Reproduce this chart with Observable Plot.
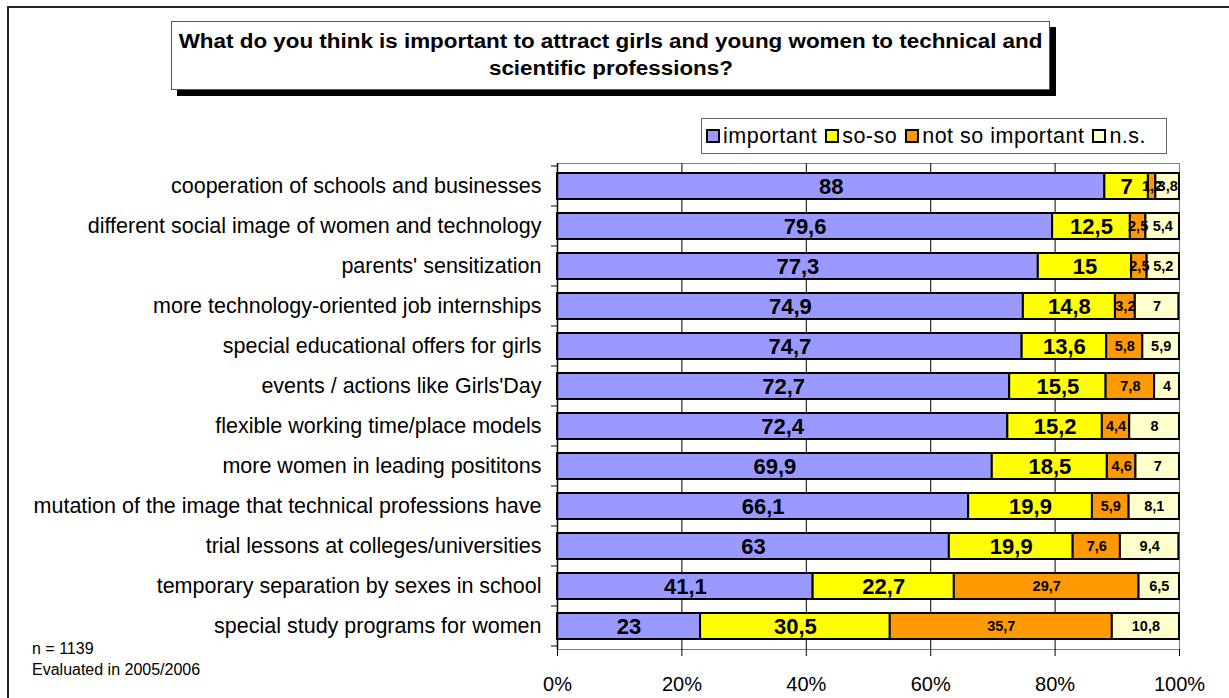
<!DOCTYPE html>
<html>
<head>
<meta charset="utf-8">
<script src="https://cdn.jsdelivr.net/npm/d3@7"></script>
<script src="https://cdn.jsdelivr.net/npm/@observablehq/plot@0.6"></script>
<style>
  html, body { margin: 0; padding: 0; background: #fff; }
  body { width: 1229px; height: 698px; position: relative; overflow: hidden; font-family: "Liberation Sans", Arial, sans-serif; }
  #border { position: absolute; left: 7px; top: 6px; width: 1240px; height: 720px; border: 2px solid #222; box-sizing: border-box; }
  #title { position: absolute; left: 171px; top: 21px; width: 879px; height: 69px; border: 1px solid #555; background: #fff;
    box-shadow: 6px 6px 0 #000; box-sizing: border-box; text-align: center; font-weight: bold; font-size: 20px; line-height: 27px;
    padding-top: 6px; color: #000; }
  #title span { display: inline-block; transform: scaleX(1.12); transform-origin: center; white-space: nowrap; }
  #legend { position: absolute; left: 701px; top: 118px; width: 466px; height: 36px; border: 1px solid #666; box-sizing: border-box;
    background: #fff; font-size: 21.5px; letter-spacing: 0.5px; display: flex; align-items: center; padding-left: 4px; }
  #legend .item { display: flex; align-items: center; margin-right: 8px; }
  #legend .sw { width: 10px; height: 10px; border: 2px solid #000; margin-right: 3px; }
  #foot { position: absolute; left: 32px; top: 638px; font-size: 16px; line-height: 21px; color: #000; }
  #chart { position: absolute; left: 0; top: 0; }
</style>
</head>
<body>
<div id="border"></div>
<div id="chart"></div>
<div id="title"><span>What do you think is important to attract girls and young women to technical and</span><br><span>scientific professions?</span></div>
<div id="legend"></div>
<div id="foot">n = 1139<br>Evaluated in 2005/2006</div>
<script>
const categories = [
  "cooperation of schools and businesses",
  "different social image of women and technology",
  "parents' sensitization",
  "more technology-oriented job internships",
  "special educational offers for girls",
  "events / actions like Girls'Day",
  "flexible working time/place models",
  "more women in leading posititons",
  "mutation of the image that technical professions have",
  "trial lessons at colleges/universities",
  "temporary separation by sexes in school",
  "special study programs for women"
];
const seriesNames = ["important", "so-so", "not so important", "n.s."];
const seriesColors = ["#9999FF", "#FFFF00", "#FF9900", "#FFFFCC"];
const important = [88, 79.6, 77.3, 74.9, 74.7, 72.7, 72.4, 69.9, 66.1, 63, 41.1, 23];
const soso      = [7, 12.5, 15, 14.8, 13.6, 15.5, 15.2, 18.5, 19.9, 19.9, 22.7, 30.5];
const notSo     = [1.2, 2.5, 2.5, 3.2, 5.8, 7.8, 4.4, 4.6, 5.9, 7.6, 29.7, 35.7];
const ns        = [3.8, 5.4, 5.2, 7, 5.9, 4, 8, 7, 8.1, 9.4, 6.5, 10.8];
const xTicks = [0, 20, 40, 60, 80, 100];

const seriesValues = [important, soso, notSo, ns];
const data = [];
categories.forEach((c, i) => {
  seriesNames.forEach((s, j) => data.push({category: c, series: s, value: seriesValues[j][i], big: j < 2}));
});

const fmt = v => String(v).replace(".", ",");

function boundaryTicks(index, scales, values, dims) {
  const y = scales.y;
  const step = y.step ? y.step() : (dims.height - dims.marginTop - dims.marginBottom) / categories.length;
  const bw = y.bandwidth ? y.bandwidth() : step * 0.63;
  const x0 = scales.x(0);
  const g = d3.create("svg:g").attr("stroke", "#000").attr("stroke-width", 1);
  const starts = categories.map(c => y(c) - (step - bw) / 2);
  starts.push(starts[starts.length - 1] + step);
  for (const s of starts) {
    g.append("line").attr("x1", x0 - 6).attr("x2", x0).attr("y1", s).attr("y2", s);
  }
  return g.node();
}

const chart = Plot.plot({
  width: 1229,
  height: 698,
  marginLeft: 557,
  marginRight: 50,
  marginTop: 163,
  marginBottom: 49,
  style: {fontFamily: "'Liberation Sans', Arial, sans-serif", background: "transparent", color: "#000"},
  x: {domain: [0, 100], label: null},
  y: {domain: categories, paddingInner: 0.36, paddingOuter: 0.18, label: null},
  color: {domain: seriesNames, range: seriesColors},
  marks: [
    Plot.frame({stroke: "#808080", strokeWidth: 1}),
    Plot.ruleX([20, 40, 60, 80], {stroke: "#000", strokeWidth: 1}),
    Plot.barX(data, Plot.stackX({x: "value", y: "category", z: "series", fill: "series", stroke: "#000", strokeWidth: 2, order: seriesNames})),
    Plot.text(data, Plot.stackX({
      x: "value", y: "category", z: "series", order: seriesNames,
      text: d => fmt(d.value),
      fontSize: d => d.big ? 22 : 14.5,
      fontWeight: "bold",
      fill: "#000"
    })),
    Plot.ruleX([0], {stroke: "#000", strokeWidth: 1.5}),
    boundaryTicks,
    Plot.axisX({ticks: xTicks, tickFormat: d => d + "%", tickSize: 7, tickPadding: 20, fontSize: 20, stroke: "#000", label: null}),
    Plot.axisY({tickSize: 0, tickPadding: 16, fontSize: 21.5, label: null})
  ]
});
document.getElementById("chart").appendChild(chart);

const legend = document.getElementById("legend");
seriesNames.forEach((s, j) => {
  const item = document.createElement("div");
  item.className = "item";
  const sw = document.createElement("div");
  sw.className = "sw";
  sw.style.background = seriesColors[j];
  const t = document.createElement("span");
  t.textContent = s;
  item.appendChild(sw);
  item.appendChild(t);
  legend.appendChild(item);
});
</script>
</body>
</html>
